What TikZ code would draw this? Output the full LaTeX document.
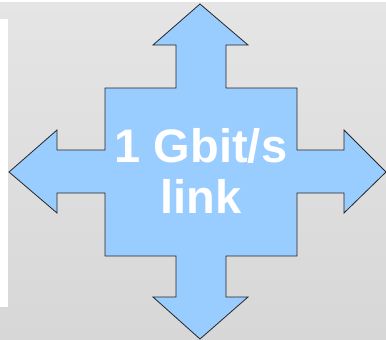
\documentclass[tikz,border=0pt]{standalone}
\usepackage{fontspec}
\setmainfont{Liberation Sans}
\definecolor{linkblue}{HTML}{99CCFF}
\definecolor{bgtop}{HTML}{E5E5E5}
\definecolor{bgbottom}{HTML}{D7D7D7}
\begin{document}
\begin{tikzpicture}[x=1pt, y=-1pt,
    cross/.style={fill=linkblue, draw=black!85, line width=0.8pt, line join=miter},
    caption/.style={text=white, font=\bfseries\fontsize{47}{51}\selectfont, align=center, inner sep=0pt}]
      \useasboundingbox (0,0) rectangle (386,340);
      \fill[white] (0,0) rectangle (386,340);
      \shade[top color=bgtop, bottom color=bgbottom] (0,2) rectangle (386,340);
      \fill[white] (0,19) rectangle (8,307);
      % four-way arrow
      \draw[cross] (200,4) -- (248,45) -- (226,45) -- (226,88) -- (297,88)
        -- (297,150) -- (344,150) -- (344,130) -- (386,172) -- (344,213) -- (344,193) -- (297,193)
        -- (297,256) -- (226,256) -- (226,297) -- (248,297) -- (200,339) -- (153,297) -- (176,297)
        -- (176,256) -- (105,256) -- (105,193) -- (57,193) -- (57,213) -- (9,172) -- (57,130)
        -- (57,150) -- (105,150) -- (105,88) -- (176,88) -- (176,45) -- (153,45) -- cycle;
      \node[caption] (link) at (201,171) {1 Gbit/s\\link};
    \end{tikzpicture}
\end{document}
